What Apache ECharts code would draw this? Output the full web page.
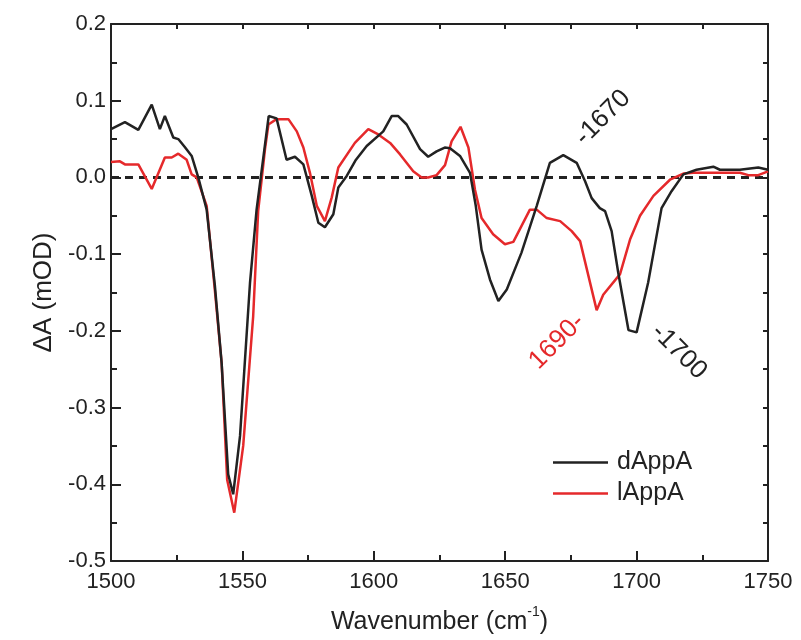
<!DOCTYPE html>
<html>
<head>
<meta charset="utf-8">
<script src="https://cdn.jsdelivr.net/npm/echarts@6/dist/echarts.min.js"></script>
<style>html,body{margin:0;padding:0;background:#fff}#c{width:801px;height:640px}</style>
</head>
<body>
<div id="c"></div>
<script>
// Wavenumber / Delta A pairs
const dAppA_wn = [1500,1505.3,1510.4,1515.5,1518.6,1520.5,1523.7,1525.6,1528,1530.7,1533.2,1536.4,1539.5,1542.1,1544.6,1546.5,1549.1,1552.9,1555.4,1560,1563,1566.8,1570,1573.2,1576.4,1578.9,1581.4,1584.6,1586.5,1589.7,1593,1597.3,1603.6,1606.8,1609.3,1612.5,1617.6,1620.7,1623.9,1627,1629,1632.8,1636.6,1638.8,1641,1644.2,1647.4,1650.6,1656.2,1662,1667,1672.1,1677.2,1680.4,1682.9,1686,1688,1690.5,1693,1696.9,1700,1704.4,1709.5,1713.3,1717.8,1722.8,1729.2,1731.7,1739.3,1746.3,1750];
const dAppA_val = [0.063,0.072,0.062,0.095,0.063,0.08,0.052,0.05,0.04,0.028,0.0,-0.042,-0.14,-0.242,-0.387,-0.413,-0.337,-0.137,-0.042,0.08,0.077,0.023,0.027,0.017,-0.024,-0.059,-0.065,-0.048,-0.013,0.002,0.022,0.041,0.06,0.08,0.08,0.069,0.037,0.027,0.034,0.039,0.038,0.028,0.006,-0.037,-0.094,-0.133,-0.161,-0.146,-0.098,-0.037,0.019,0.029,0.019,-0.005,-0.027,-0.04,-0.044,-0.07,-0.124,-0.199,-0.202,-0.137,-0.04,-0.018,0.004,0.01,0.014,0.01,0.01,0.013,0.01];

const lAppA_wn = [1500,1503.4,1505.3,1510.4,1515.5,1520.5,1523.1,1525.6,1528.8,1530.7,1532.6,1536.4,1539.6,1542.1,1544.2,1546.9,1550.3,1554.1,1556,1558.6,1559.9,1563,1567.5,1570.7,1573.2,1575.7,1578.3,1581.4,1584,1586.5,1592.8,1597.9,1601.7,1606.2,1610,1615,1618.2,1620.7,1623.9,1627.1,1629.6,1633,1636,1638.5,1641,1645.4,1649.9,1653.1,1659.4,1662,1665.8,1670.9,1675.3,1678.5,1684.8,1687.3,1693.7,1697.5,1701.3,1706.4,1712.7,1717.8,1721.6,1739.3,1742.5,1746.3,1750];
const lAppA_val = [0.02,0.021,0.017,0.017,-0.015,0.026,0.026,0.031,0.023,0.004,0.0,-0.037,-0.15,-0.242,-0.394,-0.437,-0.35,-0.181,-0.044,0.037,0.069,0.076,0.076,0.06,0.039,0.006,-0.037,-0.057,-0.026,0.013,0.045,0.063,0.056,0.045,0.03,0.008,0.0,0.0,0.003,0.016,0.047,0.066,0.039,-0.016,-0.053,-0.074,-0.087,-0.084,-0.042,-0.042,-0.053,-0.057,-0.07,-0.083,-0.173,-0.153,-0.126,-0.081,-0.05,-0.024,-0.003,0.005,0.006,0.006,0.003,0.003,0.008];

const seriesNames = ['dAppA', 'lAppA'];
const xTicks = [1500, 1550, 1600, 1650, 1700, 1750];
const yTicks = [-0.5, -0.4, -0.3, -0.2, -0.1, 0.0, 0.1, 0.2];
const zeroLine = [[1500, 0], [1750, 0]];
// peak annotations: [text, wavenumber, deltaA]
const notes = [['-1670', 1687.2, 0.078], ['1690-', 1669.7, -0.214], ['-1700', 1716.1, -0.227]];

const FONT = 'Liberation Sans';
const BLACK = '#222222';
const RED = '#e5292b';
const zip = (a, b) => a.map((x, i) => [x, b[i]]);

const chart = echarts.init(document.getElementById('c'), null, {renderer: 'canvas'});
const fmtY = v => { const r = Math.round(v * 10) / 10; return (Math.abs(r) < 1e-9 ? 0 : r).toFixed(1); };
const fmtX = v => String(Math.round(v));

chart.setOption({
  animation: false,
  backgroundColor: '#fff',
  textStyle: {fontFamily: FONT},
  grid: {left: 111, right: 33, top: 24, bottom: 78, containLabel: false},
  legend: {
    data: seriesNames,
    orient: 'vertical',
    left: 548, top: 445,
    itemWidth: 55, itemHeight: 2.5, itemGap: 6,
    icon: 'rect',
    textStyle: {fontFamily: FONT, fontSize: 25, color: BLACK, padding: [0, 0, 0, 4]}
  },
  xAxis: [{
    type: 'value', min: xTicks[0], max: xTicks[xTicks.length - 1], interval: 50,
    position: 'bottom',
    axisLine: {show: true, onZero: false, lineStyle: {color: BLACK, width: 2}},
    axisTick: {show: true, inside: true, length: 10, lineStyle: {color: BLACK, width: 2}},
    minorTick: {show: true, splitNumber: 2, length: 6, lineStyle: {color: BLACK, width: 2}},
    axisLabel: {fontFamily: FONT, fontSize: 22, color: BLACK, margin: 10, formatter: fmtX},
    splitLine: {show: false},
    name: '{a|Wavenumber (cm}{s|-1}{a|)}',
    nameLocation: 'middle', nameGap: 44,
    nameTextStyle: {
      rich: {
        a: {fontFamily: FONT, fontSize: 25, color: BLACK, lineHeight: 30, verticalAlign: 'bottom'},
        s: {fontFamily: FONT, fontSize: 14, color: BLACK, lineHeight: 30, verticalAlign: 'top'}
      }
    }
  }, {
    type: 'value', min: xTicks[0], max: xTicks[xTicks.length - 1], interval: 25,
    position: 'top',
    axisLine: {show: true, onZero: false, lineStyle: {color: BLACK, width: 2}},
    axisTick: {show: true, inside: true, length: 5, lineStyle: {color: BLACK, width: 2}},
    axisLabel: {show: false}, splitLine: {show: false}
  }],
  yAxis: [{
    type: 'value', min: yTicks[0], max: yTicks[yTicks.length - 1], interval: 0.1,
    position: 'left',
    axisLine: {show: true, onZero: false, lineStyle: {color: BLACK, width: 2}},
    axisTick: {show: true, inside: true, length: 10, lineStyle: {color: BLACK, width: 2}},
    minorTick: {show: true, splitNumber: 2, length: 6, lineStyle: {color: BLACK, width: 2}},
    axisLabel: {fontFamily: FONT, fontSize: 22, color: BLACK, margin: 5, formatter: fmtY},
    splitLine: {show: false},
    name: 'ΔA (mOD)', nameLocation: 'middle', nameGap: 52,
    nameTextStyle: {fontFamily: FONT, fontSize: 26, color: BLACK}
  }, {
    type: 'value', min: yTicks[0], max: yTicks[yTicks.length - 1], interval: 0.05,
    position: 'right',
    axisLine: {show: true, onZero: false, lineStyle: {color: BLACK, width: 2}},
    axisTick: {show: true, inside: true, length: 5, lineStyle: {color: BLACK, width: 2}},
    axisLabel: {show: false}, splitLine: {show: false}
  }],
  series: [{
    name: 'zero', type: 'line', data: zeroLine, symbol: 'none', silent: true,
    lineStyle: {color: BLACK, width: 3, type: [8, 6]}, z: 1
  }, {
    name: seriesNames[0], type: 'line', data: zip(dAppA_wn, dAppA_val),
    symbol: 'none', color: BLACK, lineStyle: {color: BLACK, width: 2.5}, z: 3,
    markPoint: {
      symbol: 'circle', symbolSize: 0, silent: true,
      data: [notes[0], notes[2]].map(n => ({
        coord: [n[1], n[2]], value: n[0],
        label: {show: true, formatter: n[0], position: 'inside', rotate: n[0] === '-1670' ? 45 : -45,
          fontFamily: FONT, fontSize: 26, color: BLACK}
      }))
    }
  }, {
    name: seriesNames[1], type: 'line', data: zip(lAppA_wn, lAppA_val),
    symbol: 'none', color: RED, lineStyle: {color: RED, width: 2.5}, z: 2,
    markPoint: {
      symbol: 'circle', symbolSize: 0, silent: true,
      data: [notes[1]].map(n => ({
        coord: [n[1], n[2]], value: n[0],
        label: {show: true, formatter: n[0], position: 'inside', rotate: 45,
          fontFamily: FONT, fontSize: 26, color: RED}
      }))
    }
  }]
});
</script>
</body>
</html>
